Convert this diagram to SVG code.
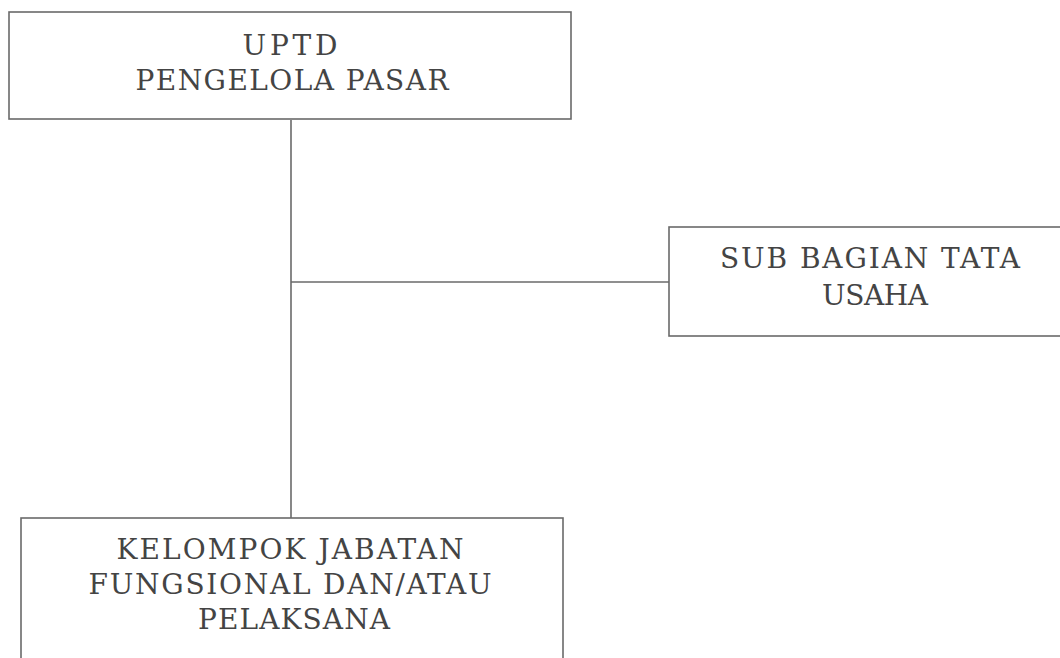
<svg xmlns="http://www.w3.org/2000/svg" width="1060" height="658" viewBox="0 0 1060 658">
<style>
.box{fill:#fff;stroke:#6a6a6a;stroke-width:1.6}
.t{font-family:"DejaVu Serif","Liberation Serif",serif;font-size:28px;fill:#444;text-anchor:middle}
.c{stroke:#6a6a6a;stroke-width:1.6;fill:none}
</style>
<rect width="1060" height="658" fill="#fff"/>
<g id="connectors">
<line class="c" x1="291" y1="120" x2="291" y2="518"/>
<line class="c" x1="291" y1="282" x2="669" y2="282"/>
</g>
<g id="uptd">
<rect class="box" x="9" y="12" width="562" height="107"/>
<text class="t" x="290" y="55" textLength="95" lengthAdjust="spacing">UPTD</text>
<text class="t" x="292" y="90" textLength="313" lengthAdjust="spacing">PENGELOLA PASAR</text>
</g>
<g id="subbag">
<rect class="box" x="669" y="227" width="400" height="109"/>
<text class="t" x="870" y="268" textLength="300" lengthAdjust="spacing">SUB BAGIAN TATA</text>
<text class="t" x="875" y="305" textLength="106" lengthAdjust="spacing">USAHA</text>
</g>
<g id="kelompok">
<rect class="box" x="21" y="518" width="542" height="150"/>
<text class="t" x="290" y="559" textLength="347" lengthAdjust="spacing">KELOMPOK JABATAN</text>
<text class="t" x="290" y="594" textLength="403" lengthAdjust="spacing">FUNGSIONAL DAN/ATAU</text>
<text class="t" x="294" y="629" textLength="192" lengthAdjust="spacing">PELAKSANA</text>
</g>
</svg>
